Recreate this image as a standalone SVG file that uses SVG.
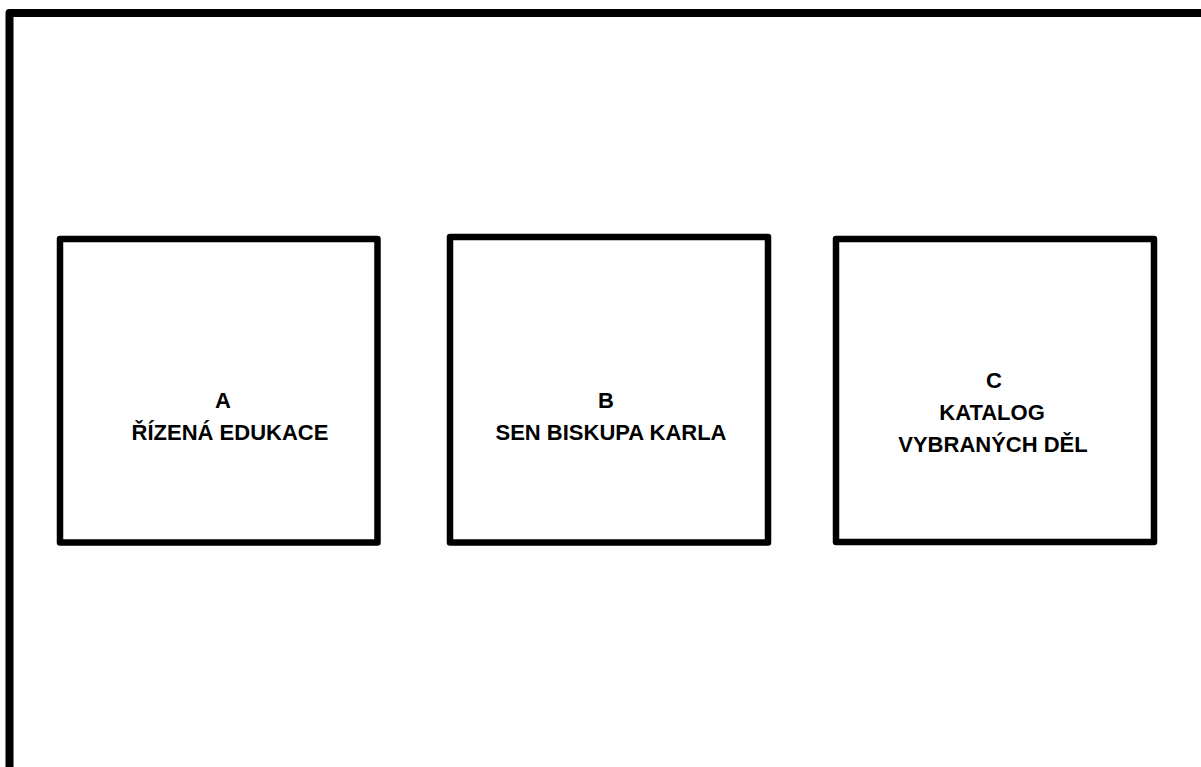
<svg xmlns="http://www.w3.org/2000/svg" width="1201" height="767" viewBox="0 0 1201 767">
<style>
.frame{fill:none;stroke:#000;stroke-width:8;stroke-linejoin:round;stroke-linecap:round}
.box{fill:#fff;stroke:#000;stroke-width:6.5;stroke-linejoin:round}
.lbl{font-family:"Liberation Sans",Arial,sans-serif;font-weight:bold;font-size:22px;fill:#000;text-anchor:middle}
</style>
<rect width="1201" height="767" fill="#fff"/>
<g id="frame"><path class="frame" d="M9.5,780 V13 H1210"/></g>
<g id="nodeA">
<rect class="box" x="60" y="239" width="317.5" height="303.5"/>
<text class="lbl" x="223" y="408">A</text>
<text class="lbl" x="230" y="440">ŘÍZENÁ EDUKACE</text>
</g>
<g id="nodeB">
<rect class="box" x="450" y="237" width="318" height="305.5"/>
<text class="lbl" x="606" y="408">B</text>
<text class="lbl" x="611" y="440">SEN BISKUPA KARLA</text>
</g>
<g id="nodeC">
<rect class="box" x="836" y="239" width="318" height="303"/>
<text class="lbl" x="994" y="388">C</text>
<text class="lbl" x="992" y="420">KATALOG</text>
<text class="lbl" x="993" y="452">VYBRANÝCH DĚL</text>
</g>
<g id="connectors"/>
</svg>
